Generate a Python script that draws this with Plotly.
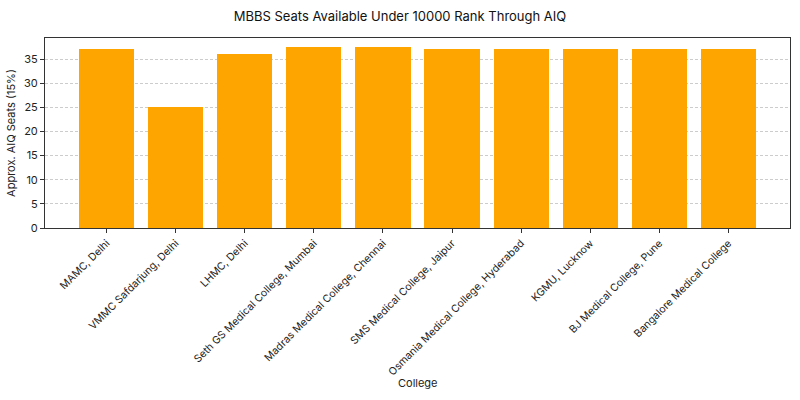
import plotly.graph_objects as go

colleges = ["MAMC, Delhi", "VMMC Safdarjung, Delhi", "LHMC, Delhi",
            "Seth GS Medical College, Mumbai", "Madras Medical College, Chennai",
            "SMS Medical College, Jaipur", "Osmania Medical College, Hyderabad",
            "KGMU, Lucknow", "BJ Medical College, Pune", "Bangalore Medical College"]
seats = [37, 25, 36, 37.5, 37.5, 37, 37, 37, 37, 37]
y_ticks = [0, 5, 10, 15, 20, 25, 30, 35]

font = "Inter, Roboto, DejaVu Sans, sans-serif"

fig = go.Figure(go.Bar(
    x=list(range(len(colleges))), y=seats, width=0.8,
    marker=dict(color="#FFA500", line=dict(width=0)),
))

fig.update_layout(
    width=800, height=400,
    margin=dict(l=45, r=10, t=38, b=172, autoexpand=False),
    paper_bgcolor="white", plot_bgcolor="white",
    font=dict(family=font, size=11, color="#222"),
    title=dict(text="MBBS Seats Available Under 10000 Rank Through AIQ",
               x=0.5, xanchor="center", y=0.96, yanchor="middle",
               font=dict(size=13, color="#111")),
    showlegend=False,
    bargap=0,
    annotations=[dict(text="College", xref="paper", yref="paper",
                      x=0.5, y=-0.816, xanchor="center", yanchor="middle",
                      showarrow=False, font=dict(size=11, color="#222"))],
)
fig.update_xaxes(
    range=[-0.89, 9.89], tickmode="array", automargin=False,
    tickvals=list(range(len(colleges))), ticktext=colleges,
    tickangle=-45, ticks="outside", ticklen=4, tickcolor="#333",
    showline=True, linecolor="#333", linewidth=1, mirror=True,
    showgrid=False, zeroline=False,
    tickfont=dict(size=10.5),
)
fig.update_yaxes(
    range=[0, 39.375], tickmode="array", tickvals=y_ticks, automargin=False,
    ticks="outside", ticklen=4, tickcolor="#333",
    showline=True, linecolor="#333", linewidth=1, mirror=True,
    showgrid=True, gridcolor="#cccccc", griddash="3px,2px", gridwidth=0.7,
    zeroline=False, tickfont=dict(size=11),
    title=dict(text="Approx. AIQ Seats (15%)", font=dict(size=11), standoff=6),
)

fig.write_html("out.html")
